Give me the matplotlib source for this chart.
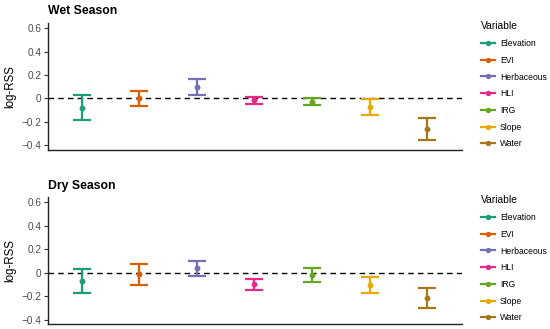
import matplotlib
matplotlib.use("Agg")
import matplotlib.pyplot as plt
from matplotlib.lines import Line2D

plt.rcParams["font.family"] = ["Liberation Sans", "DejaVu Sans"]

variables = ["Elevation", "EVI", "Herbaceous", "HLI", "IRG", "Slope", "Water"]
colors = ["#1B9E77", "#D95F02", "#7570B3", "#E7298A", "#66A61E", "#E6AB02", "#A6761D"]

wet_est = [-0.08, 0.00, 0.10, -0.017, -0.026, -0.074, -0.259]
wet_lo = [-0.18, -0.063, 0.028, -0.049, -0.057, -0.143, -0.353]
wet_hi = [0.026, 0.068, 0.168, 0.011, 0.003, -0.006, -0.165]

dry_est = [-0.071, -0.011, 0.037, -0.10, -0.017, -0.103, -0.214]
dry_lo = [-0.171, -0.103, -0.026, -0.151, -0.08, -0.171, -0.302]
dry_hi = [0.034, 0.077, 0.10, -0.051, 0.043, -0.037, -0.134]

yticks = [-0.4, -0.2, 0, 0.2, 0.4, 0.6]
yticklabels = ["\u22120.4", "\u22120.2", "0", "0.2", "0.4", "0.6"]

W, H = 550, 329
fig = plt.figure(figsize=(W / 100, H / 100), dpi=100)

panels = [
    ("Wet Season", wet_est, wet_lo, wet_hi, 23, 150, 6.3),
    ("Dry Season", dry_est, dry_lo, dry_hi, 197, 324.3, 5.8),
]

for title, est, lo, hi, top, bot, tpad in panels:
    ax = fig.add_axes([47.7 / W, 1 - bot / H, (461.7 - 47.7) / W, (bot - top) / H])
    for i, v in enumerate(variables):
        x = i + 1
        ax.errorbar([x], [est[i]], yerr=[[est[i] - lo[i]], [hi[i] - est[i]]],
                    fmt="o", color=colors[i], markersize=3.2, elinewidth=1.6,
                    capsize=6.2, capthick=1.6)
    ax.axhline(0, color="black", linestyle=(0, (4, 3)), linewidth=1.0, zorder=0)
    ax.set_xlim(0.41, 7.6)
    ax.set_ylim(-0.44, 0.645)
    ax.set_xticks([])
    ax.set_yticks(yticks)
    ax.set_yticklabels(yticklabels, fontsize=7.2, color="#4D4D4D")
    ax.tick_params(axis="y", length=3, width=0.8, pad=1.5, color="#333333")
    for s in ["top", "right"]:
        ax.spines[s].set_visible(False)
    for s in ["left", "bottom"]:
        ax.spines[s].set_linewidth(1.0)
        ax.spines[s].set_color("#222222")
    ax.set_ylabel("log-RSS", fontsize=8.3, labelpad=4)
    ax.set_title(title, fontsize=8.8, fontweight="bold", loc="left", pad=tpad)

    handles = [Line2D([0], [0], color=c, marker="o", markersize=2.8, linewidth=1.6) for c in colors]
    leg = ax.legend(handles, variables, title="Variable", loc="upper left",
                    bbox_to_anchor=(473 / W, 1 - (top - 9.5) / H), bbox_transform=fig.transFigure,
                    frameon=False, fontsize=6.2, title_fontsize=7.4, alignment="left",
                    labelspacing=0.9, handlelength=1.6, handletextpad=0.65)

fig.savefig("out.png", dpi=100)
